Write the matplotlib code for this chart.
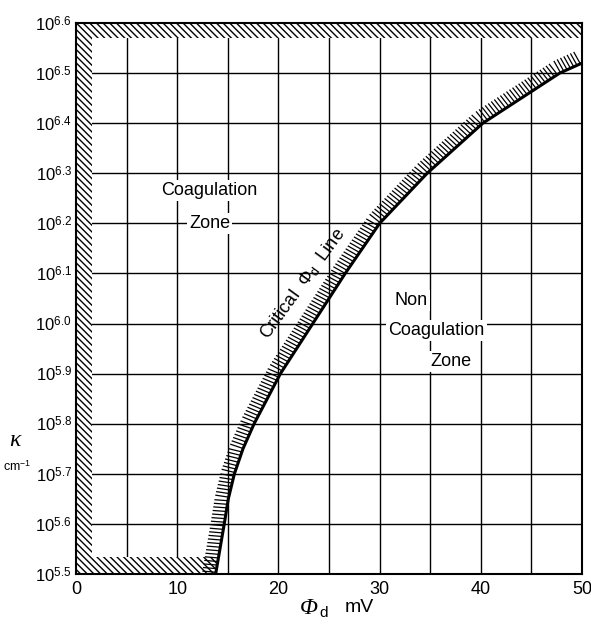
import numpy as np
import matplotlib
matplotlib.use("Agg")
import matplotlib.pyplot as plt
from matplotlib import patheffects
from matplotlib.ticker import FixedLocator, NullFormatter

plt.rcParams['font.family'] = ['Liberation Sans', 'DejaVu Sans']
plt.rcParams['hatch.linewidth'] = 1.0
plt.rcParams['mathtext.fontset'] = 'custom'
plt.rcParams['mathtext.rm'] = 'Liberation Sans'
plt.rcParams['mathtext.it'] = 'Liberation Serif:italic'

# Critical Phi_d line
phi_d = [13.8, 14.65, 15.05, 15.65, 16.5, 17.6, 20.2, 23.4, 26.6, 30.0, 34.7, 40.2, 47.8, 50.0]
log_kappa = [5.5, 5.6, 5.65, 5.7, 5.75, 5.8, 5.9, 6.0, 6.1, 6.2, 6.3, 6.4, 6.5, 6.52]

x_ticks = [0, 10, 20, 30, 40, 50]
x_grid = [0, 5, 10, 15, 20, 25, 30, 35, 40, 45, 50]
y_exps = [5.5, 5.6, 5.7, 5.8, 5.9, 6.0, 6.1, 6.2, 6.3, 6.4, 6.5, 6.6]
y_labels = ['$10^{%.1f}$' % e for e in y_exps]

fig = plt.figure(figsize=(5.91, 6.33), dpi=100)
ax = fig.add_axes([76/591, 59/633, 506/591, 551/633])

ymin, ymax = 10**5.5, 10**6.6
ax.set_yscale('log')
ax.set_xlim(0, 50)
ax.set_ylim(ymin, ymax)

# grid
for xv in x_grid:
    ax.axvline(xv, color='black', lw=1.0, zorder=1)
for e in y_exps:
    ax.axhline(10**e, color='black', lw=1.0, zorder=1)

hatch = '\\' * 5
# hatched boundary bands
ax.fill_between([0, 50], 10**6.57, ymax, facecolor='white', edgecolor='black',
                hatch=hatch, lw=0, zorder=2)
ax.fill_betweenx([ymin, ymax], 0, 1.6, facecolor='white', edgecolor='black',
                 hatch=hatch, lw=0, zorder=2)
ax.fill_between([0, phi_d[0]], ymin, 10**5.533, facecolor='white', edgecolor='black',
                hatch=hatch, lw=0, zorder=2)

# critical line with ticked hatch on coagulation side
kappa = [10**v for v in log_kappa]
ax.plot(phi_d, kappa, color='black', lw=2.2, zorder=4,
        path_effects=[patheffects.withTickedStroke(spacing=2.6, angle=95, length=3.6,
                                                   linewidth=0.9)])

# frame
for s in ax.spines.values():
    s.set_linewidth(1.5)
    s.set_zorder(5)

ax.xaxis.set_major_locator(FixedLocator(x_ticks))
ax.set_xticklabels([str(v) for v in x_ticks], fontsize=13)
ax.yaxis.set_major_locator(FixedLocator([10**e for e in y_exps]))
ax.yaxis.set_minor_locator(FixedLocator([]))
ax.yaxis.set_minor_formatter(NullFormatter())
ax.set_yticklabels(y_labels, fontsize=12)
ax.tick_params(axis='x', length=0, pad=5)
ax.tick_params(axis='y', length=0, pad=3)

# annotations
box = dict(facecolor='white', edgecolor='none', pad=1.5)
fs = 13
ax.text(13.2, 10**6.265, 'Coagulation', ha='center', va='center', fontsize=fs, zorder=3, bbox=box)
ax.text(13.2, 10**6.2, 'Zone', ha='center', va='center', fontsize=fs, zorder=3, bbox=box)
ax.text(31.5, 10**6.046, 'Non', ha='left', va='center', fontsize=fs, zorder=3, bbox=box)
ax.text(35.6, 10**5.986, 'Coagulation', ha='center', va='center', fontsize=fs, zorder=3, bbox=box)
ax.text(37.0, 10**5.924, 'Zone', ha='center', va='center', fontsize=fs, zorder=3, bbox=box)
ax.text(22.4, 10**6.08, 'Critical  Φ$_{\\rm d}$  Line', ha='center', va='center',
        rotation=54, fontsize=fs, zorder=3)

fig.text(15/591, 1 - 440/633, 'κ', ha='center', va='center', fontsize=17,
         family='Liberation Serif', style='italic')
fig.text(17/591, 1 - 467/633, r'cm$^{-1}$', ha='center', va='center', fontsize=9)
fig.text(318/591, 1 - 608/633, 'Φ', ha='right', va='center', fontsize=17,
         family='Liberation Serif', style='italic')
fig.text(319/591, 1 - 613/633, 'd', ha='left', va='center', fontsize=11)
fig.text(345/591, 1 - 608/633, 'mV', ha='left', va='center', fontsize=14)

fig.savefig('out.png', dpi=100, facecolor='white')
